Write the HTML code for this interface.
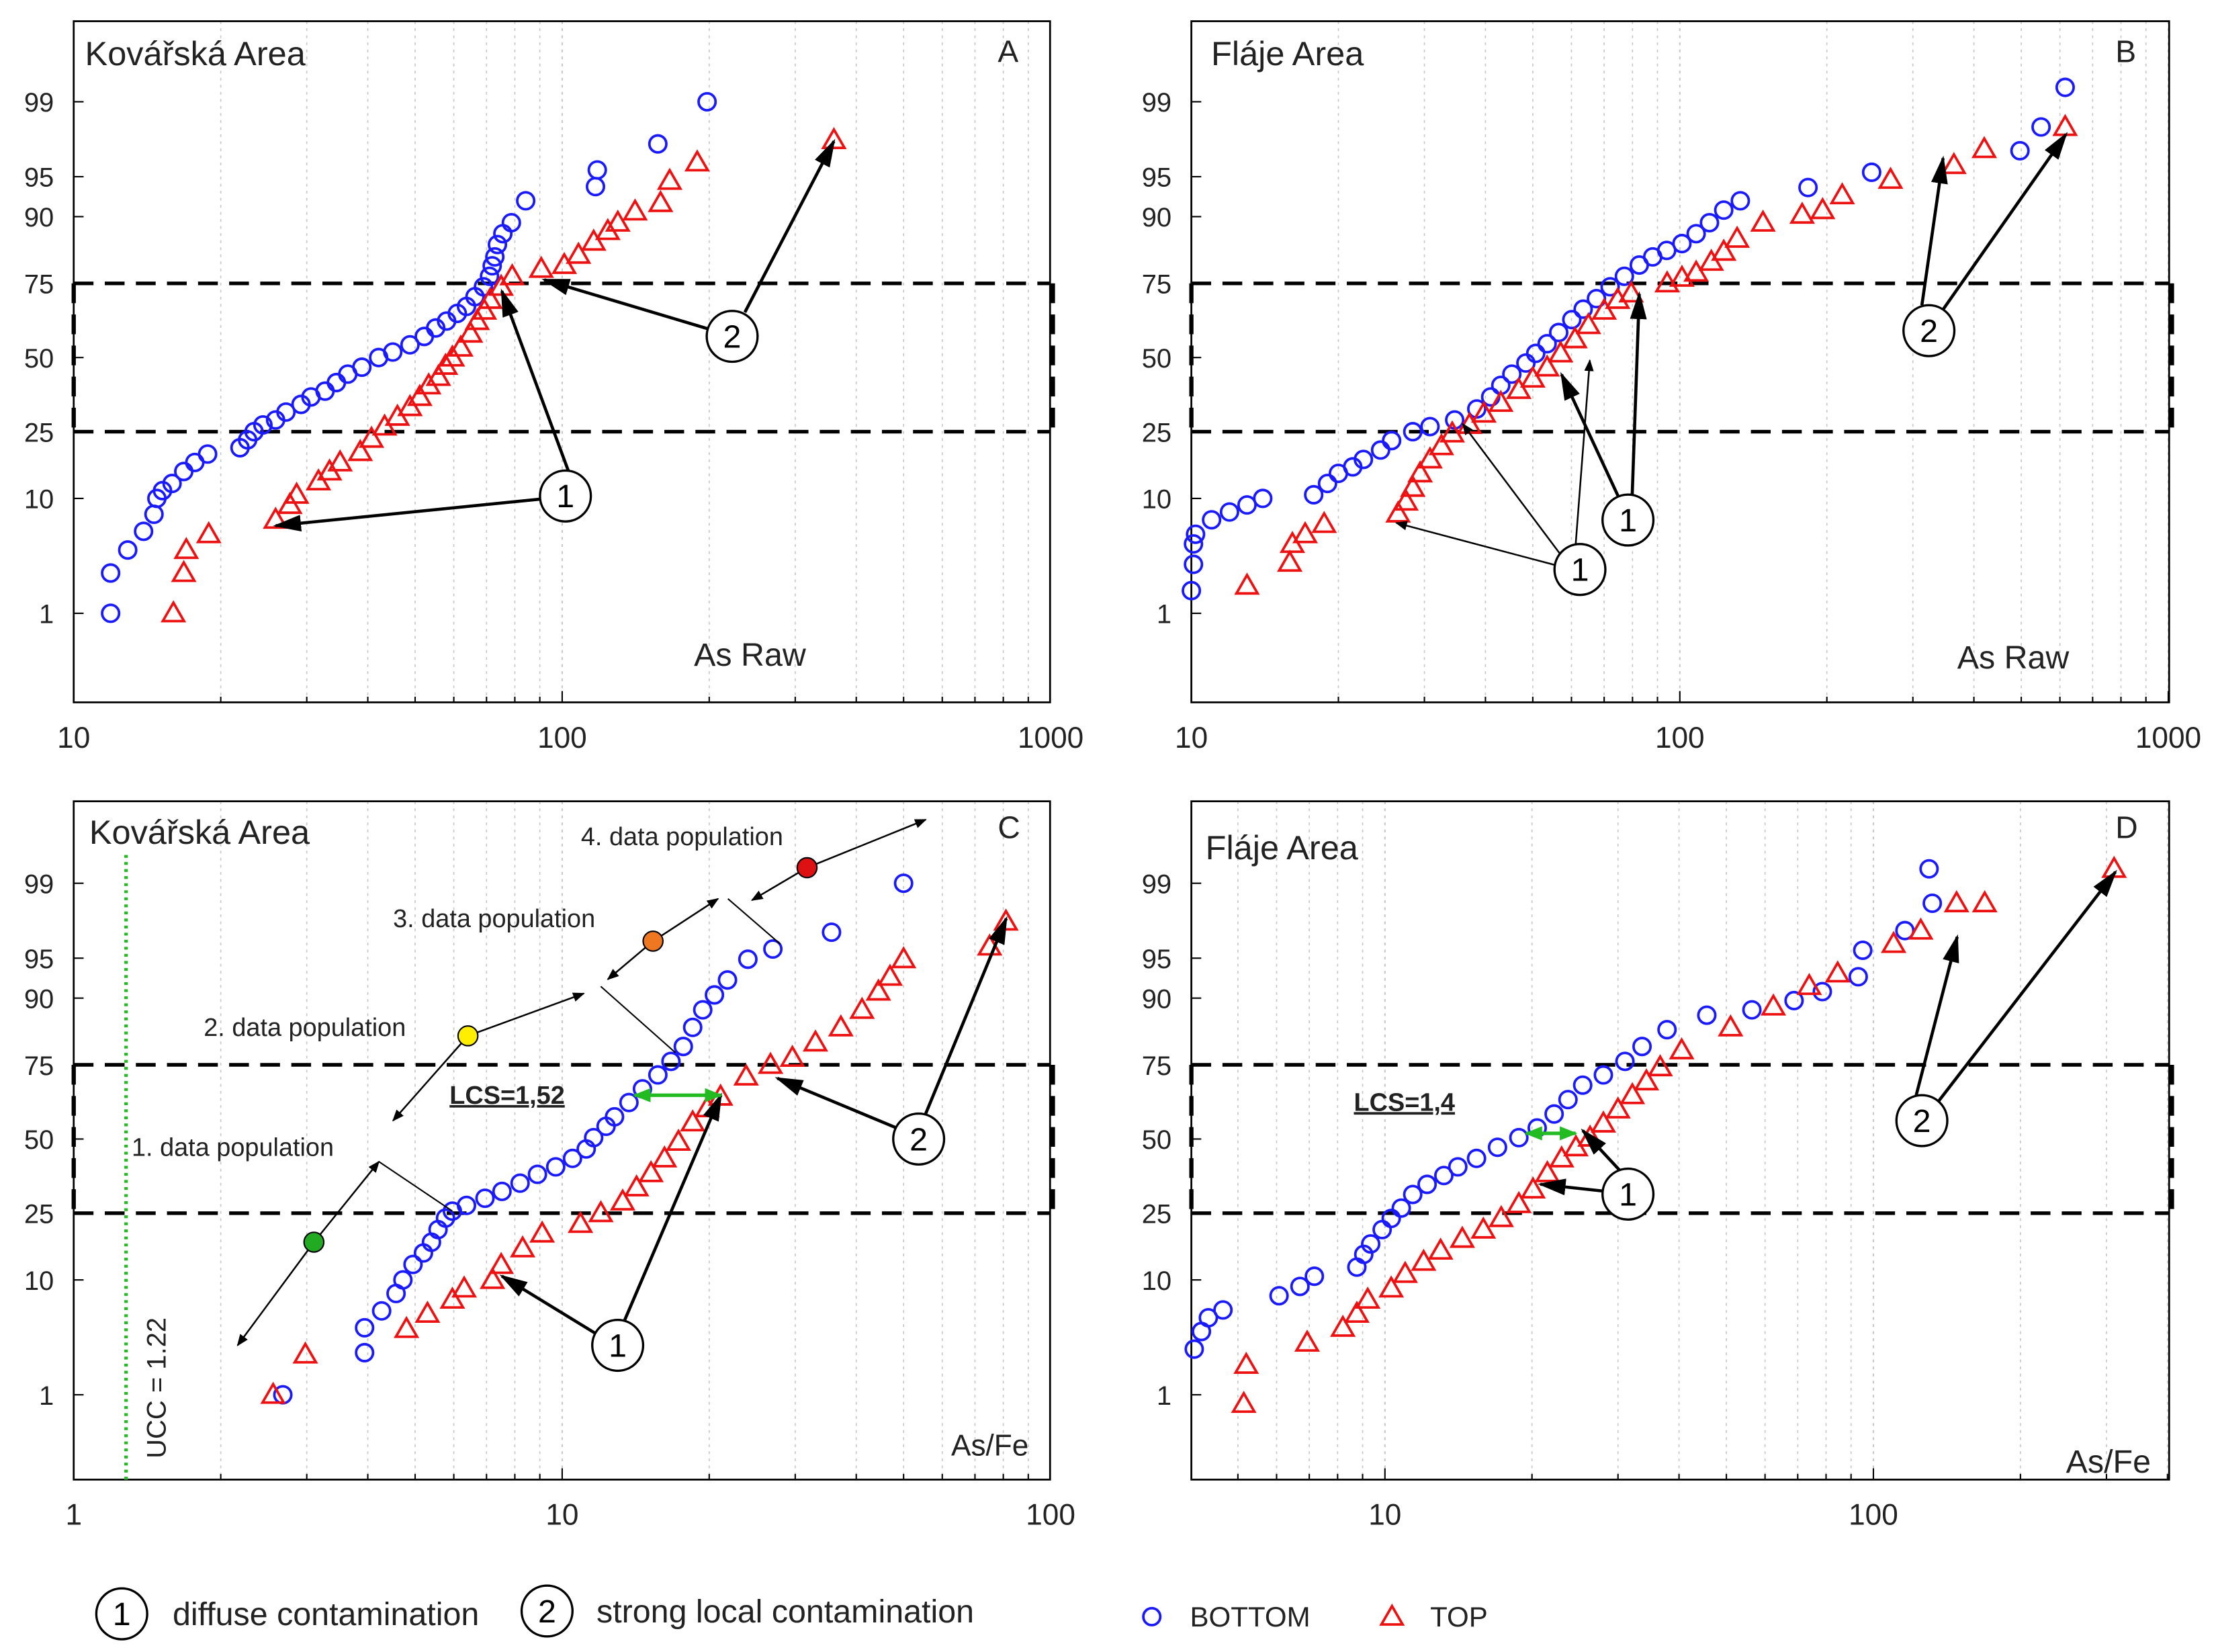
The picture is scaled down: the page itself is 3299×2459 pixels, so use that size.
<!DOCTYPE html>
<html><head><meta charset="utf-8"><style>
html,body{margin:0;padding:0;background:#fff;}
svg{display:block;font-family:"Liberation Sans",sans-serif;}
</style></head><body>
<svg id="fig" width="3299" height="2459" viewBox="0 0 1568 1169" xmlns="http://www.w3.org/2000/svg">
<defs>
<marker id="ah" viewBox="0 0 10 10" refX="9" refY="5" markerWidth="7" markerHeight="7" orient="auto-start-reverse"><path d="M0,1 L10,5 L0,9 z" fill="#000"/></marker>
<marker id="ahs" viewBox="0 0 10 10" refX="9" refY="5" markerWidth="9" markerHeight="9" orient="auto-start-reverse"><path d="M0,2 L10,5 L0,8 z" fill="#000"/></marker>
<marker id="ahg" viewBox="0 0 10 10" refX="9" refY="5" markerWidth="5" markerHeight="5" orient="auto-start-reverse"><path d="M0,1 L10,5 L0,9 z" fill="#22bb22"/></marker>
</defs>
<g id="root"></g>
</svg>
<script>
// ---- data (value, cumulative percent) ----
const aBottomX=[11.9,11.9,12.9,13.9,14.6,14.8,15.2,15.9,16.8,17.7,18.8,21.9,22.7,23.4,24.4,25.9,27.2,29.2,30.6,32.7,34.5,36.4,38.9,42.1,45,48.8,52.2,55.1,58,61,63.7,66.3,69,71,71.9,72.8,73.7,75.6,78.7,84.2,117,118,157,198];
const aBottomP=[1,2.5,4,5.7,7.7,10,11.3,12.6,15,17,19,20.6,22.7,25,27,28.5,31,33.5,36,38,41,44,46.5,50,52,54.6,57.6,60.6,63,65.6,67.9,71,74,77,79.8,82,84.8,87,89,92.3,94,95.6,97.4,99];
const aTopX=[16,16.8,17,18.9,25.9,27.7,28.6,31.7,33.4,35.1,38.6,40.7,43.3,46,48.8,51.1,53.3,55.8,57.7,59.6,62,64.9,67,69.3,71.2,75,79,90.6,101,108,116,124,130,141,159,166,189,360];
const aTopP=[1,2.5,4,5.4,7,9,10.6,13,15,17,19.5,23,26.5,29.5,32.6,36,40,43,47,50,53.6,58.6,63,66.5,70,74,77,79,80,82.5,85.4,87.5,89,90.8,92,94.6,96.2,97.6];
const bBottomX=[10,10.1,10.1,10.2,11,11.97,13,14,17.8,19,20,21.4,22.5,24.4,25.7,28.4,30.8,34.6,38.4,41,43,45.3,48.4,50.7,53.5,56.5,60.1,63.4,67.5,72,77,82.6,88,94,101,108,115,123,133,183,247,497,549,615];
const bBottomP=[1.7,3,4.5,5.4,7,8,9,10,10.6,12.6,14.6,16,17.7,20,22.5,25,26.5,28.5,32,36,40,44,48,51.5,55,59,63.5,67,70.4,74,77,80,82,83.5,85,87,89,91,92.3,93.9,95.4,97,98.2,99.3];
const bTopX=[13,15.9,16.1,17.1,18.7,26.5,27.5,28.4,29.4,30.8,32.5,34.2,37.1,39.7,43,46.8,50,53.5,57,61,65,70,74.6,79.5,94.2,101,108,116,123,131,148,178,196,215,270,364,420,615];
const bTopP=[1.9,3.1,4.5,5.4,6.5,7.8,9.5,11.8,14.6,17.7,21,24.5,27,30.5,34,38.4,42.4,46.4,51.5,56.6,61.6,66.5,70,72,75,76.6,78,80.8,83.2,86,89,90.3,91,93,94.7,96,97.1,98.2];
const cBottomX=[2.68,3.94,3.94,4.27,4.57,4.72,4.95,5.2,5.4,5.57,5.77,5.96,6.37,6.95,7.53,8.2,8.9,9.7,10.5,11.2,11.6,12.3,12.8,13.7,14.6,15.7,16.7,17.7,18.5,19.4,20.5,21.8,24,27,35.6,50];
const cBottomP=[1,2.6,4.3,5.9,8,10,12.7,15,17.4,20.5,23.6,25.6,27.3,29.5,31.7,34.4,37.4,40,43,46.4,50.5,54.6,58,63,67.6,72,76,80,84.5,88,90.5,92.6,94.9,95.8,97,99];
const cTopX=[2.56,2.98,4.8,5.3,5.96,6.3,7.2,7.5,8.3,9.1,10.9,12,13.3,14.2,15.2,16.2,17.3,18.5,19.8,21.1,23.8,26.7,29.6,33,37.2,41.1,44.4,46.9,50,75,81];
const cTopP=[1,2.5,4.2,5.6,7.2,8.7,10,12.6,16,19.5,22,25,28.5,33,37.8,43,49,56,61,65,71.5,75,77,81,84.5,88,91,93,94.9,96,97.6];
const dBottomX=[4.07,4.21,4.35,4.66,6.07,6.7,7.17,8.76,9.05,9.35,9.87,10.3,10.8,11.4,12.2,13.2,14.1,15.4,17,18.8,20.5,22.2,23.7,25.4,28,31,33.6,37.8,45.6,56.4,68.8,78.6,93.1,95.1,116,132,130];
const dBottomP=[2.8,4,5.2,6,7.7,9,10.6,12.2,14.7,17,20.5,23.5,26.5,30.7,34,37,40,43,47,50.5,54,59,64,68.8,72,76,80,84,87,88,89.6,91,93,95.7,97.1,98.4,99.3];
const dTopX=[5.14,5.2,6.93,8.2,8.76,9.22,10.3,11,12,13,14.4,15.9,17.3,18.8,20.1,21.5,23,24.6,26.3,28,30,32.1,34.3,36.6,40.5,51,62.4,73.9,84.5,110,125,148,169,311];
const dTopP=[0.8,2,3.2,4.3,5.6,7.2,8.7,11,13.2,15.5,18.2,20.5,23.6,27.7,32.3,37.8,43,47,50.5,55.6,60.6,65.5,70,74.3,79,84.5,88.6,91.8,93.4,96.2,97.1,98.4,98.4,99.3];
const yTicks=[1,10,25,50,75,90,95,99];
const xTicksAB=[10,100,1000];
const xTicksC=[1,10,100];
const xTicksD=[10,100];
const uccLineValue=1.28;

const NS="http://www.w3.org/2000/svg";
const root=document.getElementById('root');
function el(tag,attrs,parent){const e=document.createElementNS(NS,tag);for(const k in attrs)e.setAttribute(k,attrs[k]);(parent||root).appendChild(e);return e;}
function probit(p){
  const a=[-39.6968302866538,220.946098424521,-275.928510446969,138.357751867269,-30.6647980661472,2.50662827745924];
  const b=[-54.4760987982241,161.585836858041,-155.698979859887,66.8013118877197,-13.2806815528857];
  const c=[-0.00778489400243029,-0.322396458041136,-2.40075827716184,-2.54973253934373,4.37466414146497,2.93816398269878];
  const d=[0.00778469570904146,0.32246712907004,2.445134137143,3.75440866190742];
  const pl=0.02425;let q,r;
  if(p<pl){q=Math.sqrt(-2*Math.log(p));return (((((c[0]*q+c[1])*q+c[2])*q+c[3])*q+c[4])*q+c[5])/((((d[0]*q+d[1])*q+d[2])*q+d[3])*q+1);}
  if(p>1-pl){q=Math.sqrt(-2*Math.log(1-p));return -(((((c[0]*q+c[1])*q+c[2])*q+c[3])*q+c[4])*q+c[5])/((((d[0]*q+d[1])*q+d[2])*q+d[3])*q+1);}
  q=p-0.5;r=q*q;return (((((a[0]*r+a[1])*r+a[2])*r+a[3])*r+a[4])*r+a[5])*q/(((((b[0]*r+b[1])*r+b[2])*r+b[3])*r+b[4])*r+1);
}
const K=77.8, DEC=345.7;
function mkPanel(name,x0,x1,y0,y1,yc,xminLog){
  return {name,x0,x1,y0,y1,
    sx:v=>x0+(Math.log10(v)-xminLog)*DEC,
    sy:p=>yc-probit(p/100)*K};
}
const PA=mkPanel('a',52,743,15,497,253,1);
const PB=mkPanel('b',843,1535,15,497,253,1);
const PC=mkPanel('c',52,743,567,1047,806,0);
const PD=mkPanel('d',843,1535,567,1047,806,Math.log10(10)-(980-843)/DEC);

function drawPanel(P,xticks,xmaxVal){
  const g=el('g',{});
  
  
  const lo=Math.pow(10,Math.floor(Math.log10(xticks[0])-1));
  for(let dec=lo;dec<xmaxVal*10;dec*=10){
    for(let m=1;m<10;m++){const v=dec*m;const x=P.sx(v);
      if(x<=P.x0+0.5||x>=P.x1-0.5)continue;
      const l=el('line',{x1:x,x2:x,y1:P.y0,y2:P.y1,stroke:'#c8c8c8','stroke-width':m===1?1:0.8,'stroke-dasharray':'2,3'},g);
      
      const t=el('line',{x1:x,x2:x,y1:P.y1,y2:P.y1-(m===1?8:4),stroke:'#000','stroke-width':1},g);
      
    }
  }
  const y25=P.sy(25),y75=P.sy(75);
  [y25,y75].forEach(y=>{const l=el('line',{x1:P.x0,x2:P.x1,y1:y,y2:y,stroke:'#000','stroke-width':2.6,'stroke-dasharray':'14,8'},g);
    });
  [P.x0,P.x1+2].forEach(x=>{const l=el('line',{x1:x,x2:x,y1:y75,y2:y25,stroke:'#000','stroke-width':3,'stroke-dasharray':'14,8'},g);
    });
  const r=el('rect',{x:P.x0,y:P.y0,width:P.x1-P.x0,height:P.y1-P.y0,fill:'none',stroke:'#000','stroke-width':1.3},g);
  
  yTicks.forEach(p=>{const y=P.sy(p);
    const t=el('line',{x1:P.x0,x2:P.x0+7,y1:y,y2:y,stroke:'#000','stroke-width':1},g);
    
    const tx=el('text',{x:P.x0-14,y:y+7,'text-anchor':'end','font-size':19,fill:'#222'},g);
    tx.textContent=p;
    
  });
  xticks.forEach(v=>{const x=P.sx(v);
    const tx=el('text',{x:x,y:P.y1+32,'text-anchor':'middle','font-size':21,fill:'#222'},g);
    tx.textContent=v;
    
  });
  return g;
}
function drawSeries(P,xs,ps,kind,g){
  for(let i=0;i<xs.length;i++){
    const x=P.sx(xs[i]),y=P.sy(ps[i]);
    let m;
    if(kind==='bottom'){m=el('circle',{cx:x,cy:y,r:6,fill:'none',stroke:'#1a1aff','stroke-width':1.8},g);
      }
    else{m=el('polygon',{points:`${x},${y-7.5} ${x+7.5},${y+5.5} ${x-7.5},${y+5.5}`,fill:'none',stroke:'#ee1111','stroke-width':1.8},g);
      }
    
  }
}
function txt(x,y,s,size,name,extra){const t=el('text',Object.assign({x:x,y:y,'font-size':size,fill:'#222'},extra||{}));t.textContent=s;
  return t;}
function circ(x,y,s,name){const g=el('g',{});
  el('circle',{cx:x,cy:y,r:18,fill:'#fff',stroke:'#000','stroke-width':1.6},g);
  const t=el('text',{x:x,y:y+8,'text-anchor':'middle','font-size':23,fill:'#000'},g);t.textContent=s;}
function arrow(x1,y1,x2,y2,name,w,mk){const l=el('line',{x1,y1,x2,y2,stroke:'#000','stroke-width':w||2.2,'marker-end':'url(#'+(mk||'ahs')+')'});
  return l;}
function line(x1,y1,x2,y2,name){const l=el('line',{x1,y1,x2,y2,stroke:'#000','stroke-width':1});}

const gA=drawPanel(PA,xTicksAB,1000);drawSeries(PA,aBottomX,aBottomP,'bottom',gA);drawSeries(PA,aTopX,aTopP,'top',gA);
const gB=drawPanel(PB,xTicksAB,1000);drawSeries(PB,bBottomX,bBottomP,'bottom',gB);drawSeries(PB,bTopX,bTopP,'top',gB);
const gC=drawPanel(PC,xTicksC,100);
const ucc=el('line',{x1:PC.sx(uccLineValue),x2:PC.sx(uccLineValue),y1:605,y2:1047,stroke:'#22bb22','stroke-width':2.5,'stroke-dasharray':'2,3'});

txt(0,0,'UCC = 1.22',19,'ucc-label',{transform:'translate(117,1032) rotate(-90)'});
drawSeries(PC,cBottomX,cBottomP,'bottom',gC);drawSeries(PC,cTopX,cTopP,'top',gC);
const gD=drawPanel(PD,xTicksD,1000);drawSeries(PD,dBottomX,dBottomP,'bottom',gD);drawSeries(PD,dTopX,dTopP,'top',gD);

txt(60,46,'Kovářská Area',24,'panel-a-title');txt(706,44,'A',22,'panel-a-letter');
txt(857,46,'Fláje Area',24,'panel-b-title');txt(1497,44,'B',22,'panel-b-letter');
txt(63,597,'Kovářská Area',24,'panel-c-title');txt(706,593,'C',22,'panel-c-letter');
txt(853,608,'Fláje Area',24,'panel-d-title');txt(1497,593,'D',22,'panel-d-letter');
txt(491,471,'As Raw',23,'panel-a-label');txt(1385,473,'As Raw',23,'panel-b-label');
txt(673,1030,'As/Fe',21,'panel-c-label');txt(1462,1042,'As/Fe',23,'panel-d-label');

arrow(384,353,195,372,'arrow-a1');arrow(402,333,355,206,'arrow-a1b');circ(400,351,'1','marker-a1');
arrow(502,233,385,198,'arrow-a2');arrow(527,221,590,100,'arrow-a2b');circ(518,238,'2','marker-a2');
arrow(1145,351,1105,265,'arrow-b1');arrow(1155,350,1160,208,'arrow-b1b');circ(1152,368,'1','marker-b1');
arrow(1101,400,988,370,'arrow-b1c','1.2','ah');arrow(1104,392,1035,300,'arrow-b1d','1.2','ah');arrow(1115,385,1125,255,'arrow-b1e','1.2','ah');circ(1118,403,'1','marker-b1-second');
arrow(1360,216,1375,112,'arrow-b2');arrow(1375,219,1462,95,'arrow-b2b');circ(1365,234,'2','marker-b2');
arrow(422,944,355,903,'arrow-c1');arrow(442,934,510,775,'arrow-c1b');circ(437,952,'1','marker-c1');
arrow(634,798,550,763,'arrow-c2');arrow(655,788,712,650,'arrow-c2b');circ(650,806,'2','marker-c2');
const lcs1=el('line',{x1:449,x2:510,y1:775,y2:775,stroke:'#22bb22','stroke-width':2.5,'marker-start':'url(#ahg)','marker-end':'url(#ahg)'});

txt(318,781,'LCS=1,52',18,'lcs-label-c',{'font-weight':'bold','text-decoration':'underline'});
arrow(222,879,268,822,'pop1-arrow-up',1.2,'ah');arrow(222,879,168,952,'pop1-arrow-down',1.2,'ah');line(268,822,320,857,'pop1-connector');
arrow(331,733,278,793,'pop2-arrow-down',1.2,'ah');arrow(331,733,413,703,'pop2-arrow-up',1.2,'ah');line(425,698,478,745,'pop2-connector');
arrow(462,666,430,693,'pop3-arrow-down',1.2,'ah');arrow(462,666,508,636,'pop3-arrow-up',1.2,'ah');line(515,636,552,668,'pop3-connector');
arrow(571,614,532,637,'pop4-arrow-down',1.2,'ah');arrow(571,614,655,580,'pop4-arrow-up',1.2,'ah');
[[222,879,'#22aa22','pop1-dot'],[331,733,'#ffee00','pop2-dot'],[462,666,'#ee7722','pop3-dot'],[571,614,'#dd1111','pop4-dot']].forEach(d=>{
  const c=el('circle',{cx:d[0],cy:d[1],r:7,fill:d[2],stroke:'#000','stroke-width':1});});
txt(93,818,'1. data population',18,'pop1-label');txt(144,733,'2. data population',18,'pop2-label');
txt(278,656,'3. data population',18,'pop3-label');txt(411,598,'4. data population',18,'pop4-label');
arrow(1136,843,1090,838,'arrow-d1');arrow(1146,828,1120,800,'arrow-d1b');circ(1152,845,'1','marker-d1');
const lcs2=el('line',{x1:1080,x2:1115,y1:802,y2:802,stroke:'#22bb22','stroke-width':2.5,'marker-start':'url(#ahg)','marker-end':'url(#ahg)'});

txt(958,786,'LCS=1,4',18,'lcs-label-d',{'font-weight':'bold','text-decoration':'underline'});
arrow(1356,775,1385,663,'arrow-d2');arrow(1372,779,1497,617,'arrow-d2b');circ(1360,793,'2','marker-d2');

circ(86,1142,'1','legend-marker-1');txt(122,1150,'diffuse contamination',23,'legend-diffuse');
circ(387,1140,'2','legend-marker-2');txt(422,1148,'strong local contamination',23,'legend-strong');
const lb=el('circle',{cx:815,cy:1144,r:6,fill:'none',stroke:'#1a1aff','stroke-width':1.8});
txt(842,1151,'BOTTOM',20,'legend-bottom');
const lt=el('polygon',{points:'985,1136.5 992.5,1149.5 977.5,1149.5',fill:'none',stroke:'#ee1111','stroke-width':1.8});
txt(1012,1151,'TOP',20,'legend-top');
</script>
</body></html>
